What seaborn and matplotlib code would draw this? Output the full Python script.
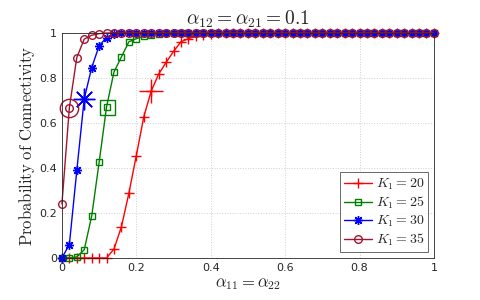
import numpy as np
import pandas as pd
import seaborn as sns
import matplotlib
matplotlib.use("Agg")
import matplotlib.pyplot as plt

# alpha_11 = alpha_22 sampled every 0.02
alpha = np.round(np.arange(0, 1.0001, 0.02), 2)

tail = lambda n: [1.0] * n

k20 = [0, 0, 0, 0, 0, 0, 0, 0.04, 0.139, 0.288, 0.455, 0.627, 0.742, 0.817, 0.869,
       0.918, 0.961, 0.975, 0.985, 0.99, 0.995] + tail(30)
k25 = [0, 0, 0.005, 0.037, 0.186, 0.425, 0.672, 0.827, 0.894, 0.961, 0.975, 0.985,
       0.99, 0.995] + tail(37)
k30 = [0, 0.06, 0.389, 0.708, 0.846, 0.943, 0.98, 0.995] + tail(43)
k35 = [0.24, 0.668, 0.891, 0.973, 0.99, 0.997] + tail(45)

labels = ["$K_1 = 20$", "$K_1 = 25$", "$K_1 = 30$", "$K_1 = 35$"]
series = [k20, k25, k30, k35]
colors = ["#ff0000", "#008000", "#0000ff", "#a2142f"]
markers = ["+", "s", (8, 2, 0), "o"]   # (8, 2, 0) = 8-spoke asterisk like MATLAB '*'
msizes = [7, 4.5, 6.5, 5.5]
# index of the point highlighted with an enlarged marker
highlight = [12, 6, 3, 1]

df = pd.DataFrame({
    "alpha": np.tile(alpha, 4),
    "p": np.concatenate(series),
    "K": np.repeat(labels, len(alpha)),
})

sns.set_style("white")
plt.rcParams["mathtext.fontset"] = "cm"
plt.rcParams["font.family"] = ["DejaVu Sans"]

fig = plt.figure(figsize=(4.8, 3.0), dpi=100)
ax = fig.add_axes([0.129, 0.14, 0.775, 0.75])

for lab, col, mk, ms, hi in zip(labels, colors, markers, msizes, highlight):
    sub = df[df["K"] == lab]
    sns.lineplot(data=sub, x="alpha", y="p", color=col, marker=mk, markersize=ms,
                 markerfacecolor="none", markeredgecolor=col, markeredgewidth=1.0,
                 linewidth=1.0, label=lab, ax=ax, clip_on=False)
    row = sub.iloc[hi]
    ax.plot(row["alpha"], row["p"], marker=mk, markersize=ms * 2.4, color=col,
            markerfacecolor="none", markeredgewidth=1.0, linestyle="none",
            clip_on=False)

ax.set_xlim(0, 1)
ax.set_ylim(0, 1)
ax.set_xticks(np.arange(0, 1.01, 0.2))
ax.set_yticks(np.arange(0, 1.01, 0.2))
ax.set_xticklabels(["0", "0.2", "0.4", "0.6", "0.8", "1"])
ax.set_yticklabels(["0", "0.2", "0.4", "0.6", "0.8", "1"])
ax.tick_params(direction="in", length=3, labelsize=8, colors="#262626")
ax.grid(True, linestyle=":", color="#d0d0d0", linewidth=0.7)
for s in ax.spines.values():
    s.set_color("#262626")
    s.set_linewidth(0.6)

ax.set_title(r"$\alpha_{12} = \alpha_{21} = 0.1$", fontsize=14, pad=6)
ax.set_xlabel(r"$\alpha_{11} = \alpha_{22}$", fontsize=12, labelpad=1)
ax.set_ylabel(r"$\mathrm{Probability\ of\ Connectivity}$", fontsize=12, labelpad=2)

leg = ax.legend(loc="lower right", fontsize=10, frameon=True, fancybox=False,
                edgecolor="#262626", handlelength=2.0, borderpad=0.3,
                labelspacing=0.2, handletextpad=0.3, borderaxespad=0.4)
leg.get_frame().set_linewidth(0.6)
leg.set_zorder(5)

fig.savefig("out.png", dpi=100)
